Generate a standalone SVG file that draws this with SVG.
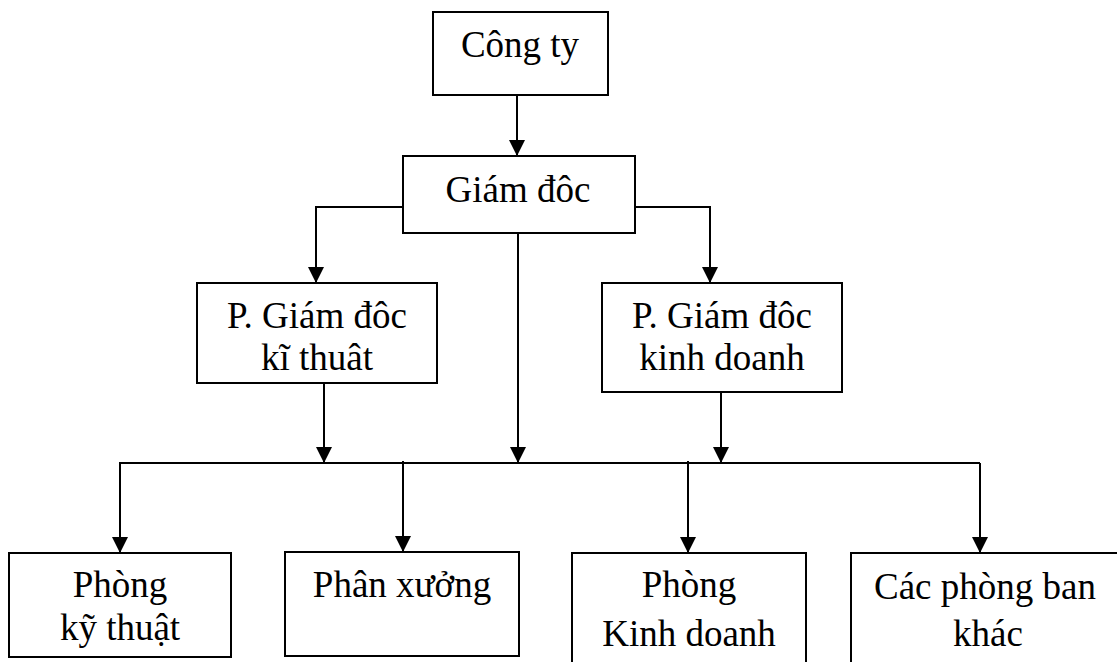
<svg xmlns="http://www.w3.org/2000/svg" width="1117" height="662" viewBox="0 0 1117 662">
  <style>
    .box { fill: #ffffff; stroke: #000000; stroke-width: 2; }
    .lbl { font-family: 'Liberation Serif', 'Times New Roman', serif; font-size: 37px; fill: #000000; text-anchor: middle; }
    .conn { fill: none; stroke: #000000; stroke-width: 2; }
    .arr { marker-end: url(#ah); }
  </style>
  <defs>
    <marker id="ah" viewBox="0 0 16 16" refX="16" refY="8" markerWidth="16" markerHeight="16" markerUnits="userSpaceOnUse" orient="auto">
      <path d="M0,0 L16,8 L0,16 z" fill="#000000"/>
    </marker>
  </defs>
  <rect x="0" y="0" width="1117" height="662" fill="#ffffff"/>

  <g id="connectors">
    <path class="conn arr" d="M517,95 L517,156"/>
    <path class="conn arr" d="M403,207 L316,207 L316,283"/>
    <path class="conn arr" d="M635,207 L710,207 L710,283"/>
    <path class="conn arr" d="M518,233 L518,463"/>
    <path class="conn arr" d="M324,383 L324,463"/>
    <path class="conn arr" d="M721,392 L721,463"/>
    <path class="conn" d="M119,463 L980,463"/>
    <path class="conn arr" d="M120,463 L120,553"/>
    <path class="conn arr" d="M980,463 L980,553"/>
    <path class="conn arr" d="M403,461 L403,552"/>
    <path class="conn arr" d="M688,461 L688,553"/>
  </g>

  <g id="cong-ty">
    <rect class="box" x="433" y="12" width="175" height="83"/>
    <text class="lbl" x="520" y="57">Công ty</text>
  </g>

  <g id="giam-doc">
    <rect class="box" x="403" y="156" width="232" height="77"/>
    <text class="lbl" x="518" y="202">Giám đôc</text>
  </g>

  <g id="pgd-ki-thuat">
    <rect class="box" x="197" y="283" width="240" height="100"/>
    <text class="lbl" x="317" y="328">P. Giám đôc</text>
    <text class="lbl" x="317" y="370">kĩ thuât</text>
  </g>

  <g id="pgd-kinh-doanh">
    <rect class="box" x="602" y="283" width="240" height="109"/>
    <text class="lbl" x="722" y="328">P. Giám đôc</text>
    <text class="lbl" x="722" y="370">kinh doanh</text>
  </g>

  <g id="phong-ky-thuat">
    <rect class="box" x="9" y="553" width="222" height="104"/>
    <text class="lbl" x="120" y="597">Phòng</text>
    <text class="lbl" x="120" y="640">kỹ thuật</text>
  </g>

  <g id="phan-xuong">
    <rect class="box" x="285" y="552" width="234" height="104"/>
    <text class="lbl" x="402" y="597">Phân xưởng</text>
  </g>

  <g id="phong-kinh-doanh">
    <rect class="box" x="572" y="553" width="234" height="120"/>
    <text class="lbl" x="689" y="597">Phòng</text>
    <text class="lbl" x="689" y="646">Kinh doanh</text>
  </g>

  <g id="cac-phong-ban-khac">
    <rect class="box" x="851" y="553" width="280" height="120"/>
    <text class="lbl" x="985" y="599">Các phòng ban</text>
    <text class="lbl" x="988" y="646">khác</text>
  </g>
</svg>
